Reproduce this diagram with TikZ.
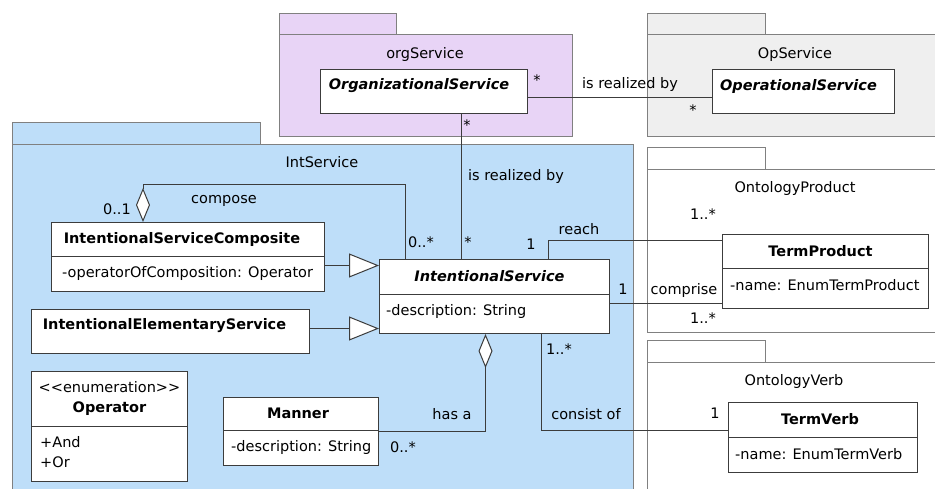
\documentclass[tikz,border=0pt]{standalone}
\usepackage{fontspec}
\setmainfont{DejaVu Sans}
\usepackage{xcolor}
\usepackage{tikz}
\usetikzlibrary{arrows.meta}

\definecolor{orgfill}{RGB}{232,212,246}
\definecolor{opfill}{RGB}{239,239,239}
\definecolor{intfill}{RGB}{190,222,249}
\definecolor{pkgline}{RGB}{128,128,128}
\definecolor{clsline}{RGB}{60,60,60}
\newcommand{\umlsize}{\fontsize{14.5}{20}\selectfont}

\begin{document}
\begin{tikzpicture}[x=1pt,y=-1pt,font=\umlsize,
  pkg/.style={draw=pkgline,line width=1pt},
  cls/.style={draw=clsline,fill=white,line width=1pt,anchor=north west,inner sep=0pt},
  ttl/.style={font=\umlsize\bfseries},
  ttli/.style={font=\umlsize\bfseries\itshape},
  attr/.style={anchor=west,inner sep=0pt},
  mult/.style={inner sep=0pt},
  conn/.style={draw=clsline,line width=1pt},
  gen/.style={conn,-{Triangle[fill=white,length=30pt,width=24pt]}},
  agg/.style={conn,-{Diamond[fill=white,length=34pt,width=14pt]}}]
					\useasboundingbox (0,0) rectangle (935,488);
					\clip (0,0) rectangle (935,488);
					\filldraw[pkg,fill=orgfill] (279,13) rectangle (396,34) (279,34) rectangle (572,136);
					\filldraw[pkg,fill=opfill] (647,13) rectangle (765,34) (647,34) rectangle (945,136);
					\filldraw[pkg,fill=intfill] (12,122) rectangle (260,144) (12,144) rectangle (633,495);
					\filldraw[pkg,fill=white] (647,147) rectangle (765,169) (647,169) rectangle (945,332);
					\filldraw[pkg,fill=white] (647,340) rectangle (765,362) (647,362) rectangle (945,495);
					\node (orgL) at (425,54) {orgService};
					\node (opL) at (795,54) {OpService};
					\node (intL) at (322,162) {IntService};
					\node (prodL) at (795,188) {OntologyProduct};
					\node (verbL) at (794,381) {OntologyVerb};
					\node[cls,minimum width=207pt,minimum height=44pt] (org) at (320,69) {};
					\node[ttli] (orgT) at ([xshift=-5pt,yshift=-17pt]org.north) {OrganizationalService};
					\node[cls,minimum width=182pt,minimum height=44pt] (opr) at (712,69) {};
					\node[ttli] (oprT) at ([xshift=-5pt,yshift=-17pt]opr.north) {OperationalService};
					\node[cls,minimum width=273pt,minimum height=69pt] (isc) at (51,222) {};
					\node[ttl] (iscT) at ([xshift=-6pt,yshift=-17pt]isc.north) {IntentionalServiceComposite};
					\draw[conn] ([yshift=-34pt]isc.north west) -- ([yshift=-34pt]isc.north east);
					\node[attr] (iscA) at ([xshift=11pt,yshift=-51pt]isc.north west) {-operatorOfComposition: Operator};
					\node[cls,minimum width=278pt,minimum height=44pt] (ies) at (31,309) {};
					\node[ttl] (iesT) at ([xshift=-6pt,yshift=-17pt]ies.north) {IntentionalElementaryService};
					\node[cls,minimum width=230pt,minimum height=74pt] (isv) at (379,259) {};
					\node[ttli] (isvT) at ([xshift=-5pt,yshift=-17pt]isv.north) {IntentionalService};
					\draw[conn] ([yshift=-35pt]isv.north west) -- ([yshift=-35pt]isv.north east);
					\node[attr] (isvA) at ([xshift=7pt,yshift=-52pt]isv.north west) {-description: String};
					\node[cls,minimum width=156pt,minimum height=110pt] (op) at (31,371) {};
					\node[align=center] (opT) at ([yshift=-27pt]op.north) {<{}<enumeration>{}>\\\textbf{Operator}};
					\draw[conn] ([yshift=-55pt]op.north west) -- ([yshift=-55pt]op.north east);
					\node[attr,align=left] (opA) at ([xshift=9pt,yshift=-81.5pt]op.north west) {+And\\+Or};
					\node[cls,minimum width=155pt,minimum height=68pt] (man) at (223,397) {};
					\node[ttl] (manT) at ([xshift=-3pt,yshift=-16pt]man.north) {Manner};
					\draw[conn] ([yshift=-33pt]man.north west) -- ([yshift=-33pt]man.north east);
					\node[attr] (manA) at ([xshift=8pt,yshift=-50pt]man.north west) {-description: String};
					\node[cls,minimum width=206pt,minimum height=74pt] (tp) at (722,234) {};
					\node[ttl] (tpT) at ([xshift=-5pt,yshift=-17pt]tp.north) {TermProduct};
					\draw[conn] ([yshift=-34pt]tp.north west) -- ([yshift=-34pt]tp.north east);
					\node[attr] (tpA) at ([xshift=8pt,yshift=-51pt]tp.north west) {-name: EnumTermProduct};
					\node[cls,minimum width=189pt,minimum height=70pt] (tv) at (728,402) {};
					\node[ttl] (tvT) at ([xshift=-3pt,yshift=-17pt]tv.north) {TermVerb};
					\draw[conn] ([yshift=-35pt]tv.north west) -- ([yshift=-35pt]tv.north east);
					\node[attr] (tvA) at ([xshift=7pt,yshift=-52pt]tv.north west) {-name: EnumTermVerb};
					\coordinate (cmpB) at (143,184);
					\draw[conn] ([yshift=-6pt]org.east) -- ([yshift=-6pt]opr.west);
					\draw[conn] ([xshift=37.5pt]org.south) -- ([xshift=37.5pt]org.south |- isv.north);
					\draw[gen] ([yshift=-8.5pt]isc.east) -- ([yshift=-8.5pt]isc.east -| isv.west);
					\draw[gen] ([yshift=3pt]ies.east) -- ([yshift=3pt]ies.east -| isv.west);
					\draw[agg] ([xshift=-89pt]isv.north) |- (cmpB) -- (cmpB |- isc.north);
					\draw[agg] (man.east) -| ([xshift=-9pt]isv.south);
					\draw[conn] ([xshift=54pt]isv.north) |- ([yshift=31pt]tp.west);
					\draw[conn] ([yshift=-7pt]isv.east) -- ([yshift=-7pt]isv.east -| tp.west);
					\draw[conn] ([xshift=47pt]isv.south) |- ([yshift=7pt]tv.west);
					\node[mult] (m1) at (537,80) {*};
					\node[mult] (r1) at (630,84) {is realized by};
					\node[mult] (m2) at (693,110) {*};
					\node[mult] (m3) at (467,125) {*};
					\node[mult] (r2) at (516,176) {is realized by};
					\node[mult] (m4) at (468,242) {*};
					\node[mult] (m5) at (421,242) {0..*};
					\node[mult] (m6) at (531,244) {1};
					\node[mult] (reachL) at (579,229) {reach};
					\node[mult] (m7) at (703,214) {1..*};
					\node[mult] (m8) at (623,289) {1};
					\node[mult] (compriseL) at (684,290) {comprise};
					\node[mult] (m9) at (703,318) {1..*};
					\node[mult] (m10) at (117,209) {0..1};
					\node[mult] (composeL) at (224,201) {compose};
					\node[mult] (hasL) at (452,414) {has a};
					\node[mult] (m11) at (403,447) {0..*};
					\node[mult] (m12) at (559,349) {1..*};
					\node[mult] (consistL) at (586,414) {consist of};
					\node[mult] (m13) at (715,413) {1};
			\end{tikzpicture}
\end{document}
